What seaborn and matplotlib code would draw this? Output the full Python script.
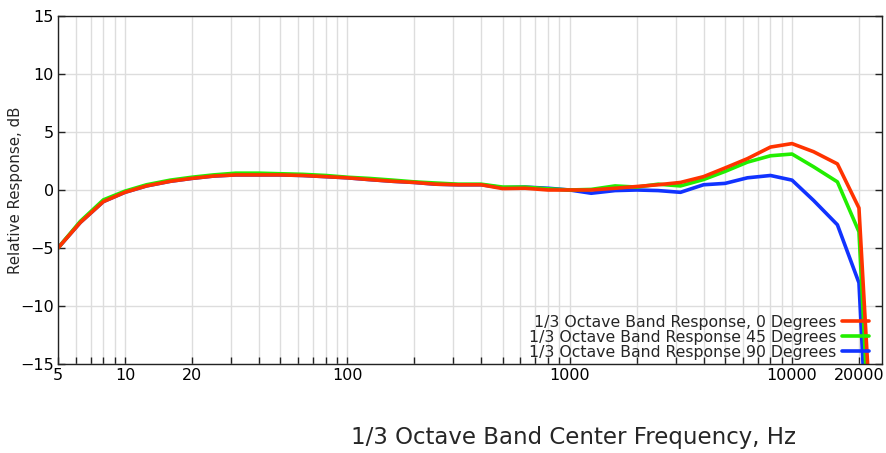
import numpy as np
import pandas as pd
import matplotlib
matplotlib.use("Agg")
import matplotlib.pyplot as plt
import seaborn as sns

# 1/3 octave band center frequencies (Hz)
freqs = [5, 6.3, 8, 10, 12.5, 16, 20, 25, 31.5, 40, 50, 63, 80, 100, 125, 160,
         200, 250, 315, 400, 500, 630, 800, 1000, 1250, 1600, 2000, 2500, 3150,
         4000, 5000, 6300, 8000, 10000, 12500, 16000, 20000, 25000]

resp_0 = [-5.0, -2.8, -1.0, -0.2, 0.35, 0.75, 1.0, 1.2, 1.3, 1.3, 1.3, 1.25, 1.15,
          1.05, 0.9, 0.75, 0.65, 0.5, 0.45, 0.45, 0.12, 0.15, 0.0, 0.0, 0.0, 0.15,
          0.3, 0.45, 0.65, 1.15, 1.9, 2.7, 3.7, 4.0, 3.3, 2.25, -1.55, -35.0]
resp_45 = [-5.0, -2.7, -0.85, -0.1, 0.45, 0.85, 1.1, 1.3, 1.45, 1.45, 1.4, 1.35, 1.25,
           1.1, 1.0, 0.85, 0.7, 0.6, 0.5, 0.5, 0.25, 0.25, 0.1, 0.0, 0.05, 0.35,
           0.25, 0.5, 0.35, 0.9, 1.6, 2.4, 2.95, 3.1, 2.0, 0.7, -3.6, -40.0]
resp_90 = [-5.0, -2.8, -1.0, -0.2, 0.35, 0.75, 1.0, 1.2, 1.3, 1.3, 1.3, 1.25, 1.15,
           1.05, 0.9, 0.75, 0.65, 0.5, 0.45, 0.45, 0.2, 0.25, 0.15, 0.0, -0.28, -0.05,
           0.0, -0.05, -0.2, 0.45, 0.57, 1.05, 1.25, 0.85, -0.9, -3.0, -8.0, -45.0]

labels = ["1/3 Octave Band Response, 0 Degrees",
          "1/3 Octave Band Response 45 Degrees",
          "1/3 Octave Band Response 90 Degrees"]
colors = ["#ff3300", "#22ee00", "#1133ff"]

xtick_vals = [5, 6, 7, 8, 9, 10, 20, 30, 40, 50, 60, 70, 80, 90, 100, 200, 300, 400,
              500, 600, 700, 800, 900, 1000, 2000, 3000, 4000, 5000, 6000, 7000, 8000,
              9000, 10000, 20000]
xtick_text = {5: "5", 10: "10", 20: "20", 100: "100", 1000: "1000",
              10000: "10000", 20000: "20000"}

df = pd.concat([
    pd.DataFrame({"freq": freqs, "resp": r, "series": lab})
    for r, lab in zip([resp_0, resp_45, resp_90], labels)
])

sns.set_style("white")
plt.rcParams["font.family"] = ["DejaVu Sans"]

fig = plt.figure(figsize=(8.87, 4.53), dpi=100)
ax = fig.add_axes([0.0654, 0.1965, 0.9290, 0.7682])

# draw blue first, red last (red on top)
order = labels[::-1]
pal = dict(zip(labels, colors))
sns.lineplot(data=df, x="freq", y="resp", hue="series", hue_order=order,
             palette=pal, sort=False, linewidth=2.6, ax=ax, estimator=None)

ax.set_xscale("log")
ax.set_xlim(5, 25400)
ax.set_ylim(-15, 15)
ax.set_yticks(np.arange(-15, 16, 5))
ax.set_xticks(xtick_vals)
ax.set_xticklabels([xtick_text.get(v, "") for v in xtick_vals])
ax.xaxis.set_minor_locator(matplotlib.ticker.NullLocator())

ax.grid(True, color="#dddddd", linewidth=1.0)
ax.set_axisbelow(True)
for s in ax.spines.values():
    s.set_color("#222222")
    s.set_linewidth(1.0)
ax.tick_params(direction="in", length=5, width=1, labelsize=11.5,
               top=False, right=True, left=True, bottom=True, colors="#222222",
               labelcolor="black", pad=3)

ax.set_xlabel("1/3 Octave Band Center Frequency, Hz", fontsize=16.5)
ax.xaxis.set_label_coords(0.625, -0.178)
ax.set_ylabel("Relative Response, dB", fontsize=10.8, labelpad=-2)

h, l = ax.get_legend_handles_labels()
hmap = dict(zip(l, h))
ax.legend([hmap[x] for x in labels], labels, loc="lower right",
          bbox_to_anchor=(0.984, 0.012), frameon=False, markerfirst=False,
          fontsize=11.3, labelspacing=0.0, handlelength=1.7, handletextpad=0.35,
          borderpad=0, borderaxespad=0)

fig.savefig("out.png", dpi=100)
